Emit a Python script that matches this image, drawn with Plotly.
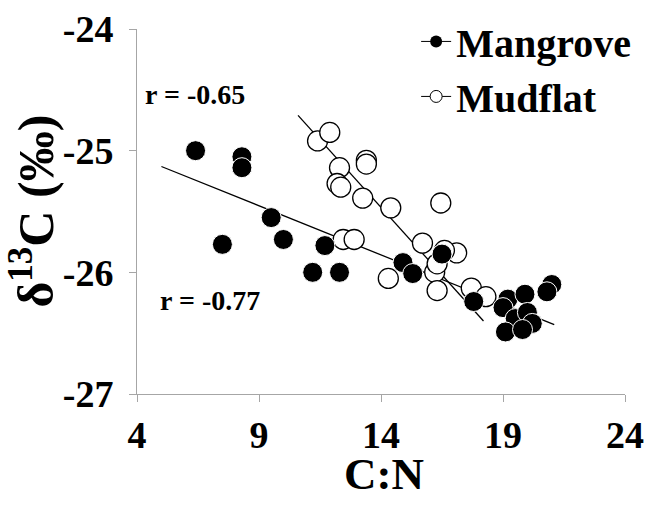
import plotly.graph_objects as go

# Mangrove (filled circles)
mangrove_cn = [6.4, 7.5, 8.3, 8.3, 9.5, 10.0, 11.2, 11.7, 12.3, 14.9, 15.3, 16.5,
               17.8, 19.2, 19.0, 19.9, 21.0, 20.8, 19.5, 20.0, 20.2, 19.1, 19.8]
mangrove_d13c = [-25.0, -25.77, -25.05, -25.14, -25.55, -25.73, -26.0, -25.78, -26.0, -25.92, -26.01, -25.85,
                 -26.24, -26.22, -26.29, -26.18, -26.10, -26.16, -26.38, -26.33, -26.42, -26.49, -26.47]

# Mudflat (open circles)
mudflat_cn = [11.4, 11.9, 12.3, 12.2, 12.35, 13.4, 13.4, 13.25, 14.4, 16.45, 12.45, 12.9,
              15.7, 17.1, 14.3, 16.2, 16.3, 17.7, 18.3, 16.3, 16.6]
mudflat_d13c = [-24.92, -24.85, -25.14, -25.27, -25.30, -25.08, -25.11, -25.39, -25.47, -25.43, -25.73, -25.73,
                -25.76, -25.84, -26.05, -26.0, -26.15, -26.13, -26.2, -25.93, -25.82]

# Regression lines (end points)
mangrove_fit_x = [5.0, 21.1]
mangrove_fit_y = [-25.13, -26.43]
mudflat_fit_x = [10.6, 18.2]
mudflat_fit_y = [-24.71, -26.40]

x_ticks = [4, 9, 14, 19, 24]
y_ticks = [-27, -26, -25, -24]
y_tick_labels = ["-27", "-26", "-25", "-24"]

FONT = "Liberation Serif"

fig = go.Figure()
fig.add_trace(go.Scatter(x=mangrove_fit_x, y=mangrove_fit_y, mode="lines",
                         line=dict(color="black", width=1.3), showlegend=False))
fig.add_trace(go.Scatter(x=mudflat_fit_x, y=mudflat_fit_y, mode="lines",
                         line=dict(color="black", width=1.3), showlegend=False))
fig.add_trace(go.Scatter(x=mudflat_cn, y=mudflat_d13c, mode="markers",
                         marker=dict(size=20, color="white", line=dict(color="black", width=1.3)),
                         showlegend=False))
fig.add_trace(go.Scatter(x=mangrove_cn, y=mangrove_d13c, mode="markers",
                         marker=dict(size=20, color="black", line=dict(color="white", width=1)),
                         showlegend=False))
# legend entries
fig.add_trace(go.Scatter(x=[None], y=[None], mode="lines+markers", name="Mangrove",
                         line=dict(color="black", width=1),
                         marker=dict(size=12, color="black")))
fig.add_trace(go.Scatter(x=[None], y=[None], mode="lines+markers", name="Mudflat",
                         line=dict(color="black", width=1),
                         marker=dict(size=12, color="white", line=dict(color="black", width=1))))

fig.add_annotation(x=4.25, y=-24.54, xref="x", yref="y", text="r = -0.65", showarrow=False,
                   xanchor="left", yanchor="middle",
                   font=dict(family=FONT, size=28, color="black", weight="bold"))
fig.add_annotation(x=4.86, y=-26.23, xref="x", yref="y", text="r = -0.77", showarrow=False,
                   xanchor="left", yanchor="middle",
                   font=dict(family=FONT, size=28, color="black", weight="bold"))
# axis titles
fig.add_annotation(x=0.506, y=-0.22, xref="paper", yref="paper", text="C:N", showarrow=False,
                   xanchor="center", yanchor="middle",
                   font=dict(family=FONT, size=45, color="black", weight="bold"))
fig.add_annotation(x=-0.215, y=0.50, xref="paper", yref="paper", text="δ<sup>13</sup>C (‰)",
                   showarrow=False, textangle=-90, xanchor="center", yanchor="middle",
                   font=dict(family=FONT, size=50, color="black", weight="bold"))

axis_common = dict(showgrid=False, zeroline=False, showline=True, linecolor="#a6a6a6", linewidth=1,
                   ticks="outside", ticklen=7, tickcolor="#a6a6a6", tickwidth=1, automargin=False,
                   tickfont=dict(family=FONT, size=38, color="black", weight="bold"))

fig.update_layout(
    width=645, height=505,
    margin=dict(l=137, r=20, t=29, b=111, autoexpand=False),
    paper_bgcolor="white", plot_bgcolor="white",
    xaxis=dict(range=[4, 24], tickvals=x_ticks, **axis_common),
    yaxis=dict(range=[-27, -24], tickvals=y_ticks, ticktext=y_tick_labels,
               ticklabelstandoff=8, **axis_common),
    legend=dict(x=0.572, y=1.055, xanchor="left", yanchor="top", bgcolor="rgba(0,0,0,0)",
                font=dict(family=FONT, size=40, color="black", weight="bold"),
                itemwidth=30, tracegroupgap=0),
    showlegend=True,
)

# remove the default page margin so the 645x505 figure fills the window exactly
fig.write_html("out.html", config={"displayModeBar": False},
               post_script="document.body.style.margin='0';document.body.style.overflow='hidden';")
